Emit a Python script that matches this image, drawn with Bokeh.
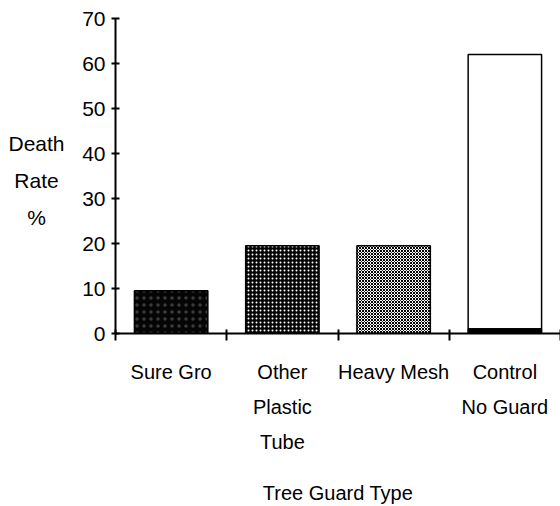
from bokeh.plotting import figure
from bokeh.models import Range1d, LinearAxis, FixedTicker
from bokeh.layouts import row
from bokeh.core.properties import value
from bokeh.embed import file_html
from bokeh.resources import INLINE

categories = ["Sure Gro", "Other\nPlastic\nTube", "Heavy Mesh", "Control\nNo Guard"]
death_rate = [9.5, 19.5, 19.5, 62.0]
y_ticks = [0, 10, 20, 30, 40, 50, 60, 70]
y_title = "Death\nRate\n%"
x_title = "Tree Guard Type"

FONT = "Liberation Sans"

n = len(categories)
centers = [i + 0.5 for i in range(n)]
boundaries = list(range(n + 1))

TOP = 18
BOTTOM = 173
yr = Range1d(0, 70)

# left strip holding the horizontal y-axis title
pl = figure(width=70, height=506, output_backend="svg", toolbar_location=None,
            x_range=Range1d(0, 70), y_range=yr,
            x_axis_location=None, y_axis_location=None,
            min_border_left=0, min_border_right=0, min_border_top=TOP, min_border_bottom=BOTTOM)
pl.outline_line_color = None
pl.xgrid.visible = False
pl.ygrid.visible = False
pl.text(x=[36], y=[34], text=[y_title], text_align="center", text_baseline="middle",
        text_font=value(FONT), text_font_size="21px", text_line_height=1.6, text_color="black")

p = figure(width=490, height=506, output_backend="svg", toolbar_location=None,
           x_range=Range1d(0, n), y_range=yr,
           x_axis_location=None, y_axis_location=None,
           min_border_left=45, min_border_right=0, min_border_top=TOP)
p.outline_line_color = None
p.xgrid.visible = False
p.ygrid.visible = False
p.background_fill_color = "white"

styles = [
    dict(fill_color="#050505", hatch_pattern="dot", hatch_color="#3c3c3c", hatch_scale=7, hatch_weight=1),
    dict(fill_color="#050505", hatch_pattern="dot", hatch_color="white", hatch_scale=4, hatch_weight=1),
    dict(fill_color="white", hatch_pattern="diagonal_cross", hatch_color="black", hatch_scale=3, hatch_weight=1),
    dict(fill_color="white"),
]
for i in range(n):
    p.vbar(x=[centers[i]], top=[death_rate[i]], width=0.66, line_color="black", line_width=1.5, **styles[i])
# thick base band under the control bar
p.vbar(x=[centers[3]], bottom=[0], top=[1.1], width=0.66, fill_color="black", line_color="black")

yaxis = LinearAxis(ticker=FixedTicker(ticks=y_ticks))
yaxis.axis_line_width = 2
yaxis.major_tick_in = 4
yaxis.major_tick_out = 4
yaxis.major_tick_line_width = 2
yaxis.minor_tick_line_color = None
yaxis.major_label_text_font = FONT
yaxis.major_label_text_font_size = "21px"
yaxis.major_label_text_color = "black"
yaxis.major_label_standoff = 6
p.add_layout(yaxis, "left")

xaxis = LinearAxis(ticker=FixedTicker(ticks=boundaries))
xaxis.axis_line_width = 2
xaxis.major_tick_in = 4
xaxis.major_tick_out = 7
xaxis.major_tick_line_width = 2
xaxis.minor_tick_line_color = None
xaxis.major_label_overrides = {b: "" for b in boundaries}
xaxis.major_label_standoff = 0
xaxis.major_label_text_font_size = "1px"
p.add_layout(xaxis, "below")

laxis = LinearAxis(ticker=FixedTicker(ticks=centers))
laxis.axis_line_color = None
laxis.major_tick_line_color = None
laxis.minor_tick_line_color = None
laxis.major_label_overrides = {c: lab for c, lab in zip(centers, categories)}
laxis.major_label_text_font = FONT
laxis.major_label_text_font_size = "20px"
laxis.major_label_text_color = "black"
laxis.major_label_text_line_height = 1.6
laxis.major_label_standoff = 14
laxis.axis_label = x_title
laxis.axis_label_text_font = FONT
laxis.axis_label_text_font_size = "20px"
laxis.axis_label_text_font_style = "normal"
laxis.axis_label_text_color = "black"
laxis.axis_label_standoff = 26
p.add_layout(laxis, "below")

layout = row(pl, p, spacing=0)
open("out.html", "w").write(file_html(layout, INLINE))
